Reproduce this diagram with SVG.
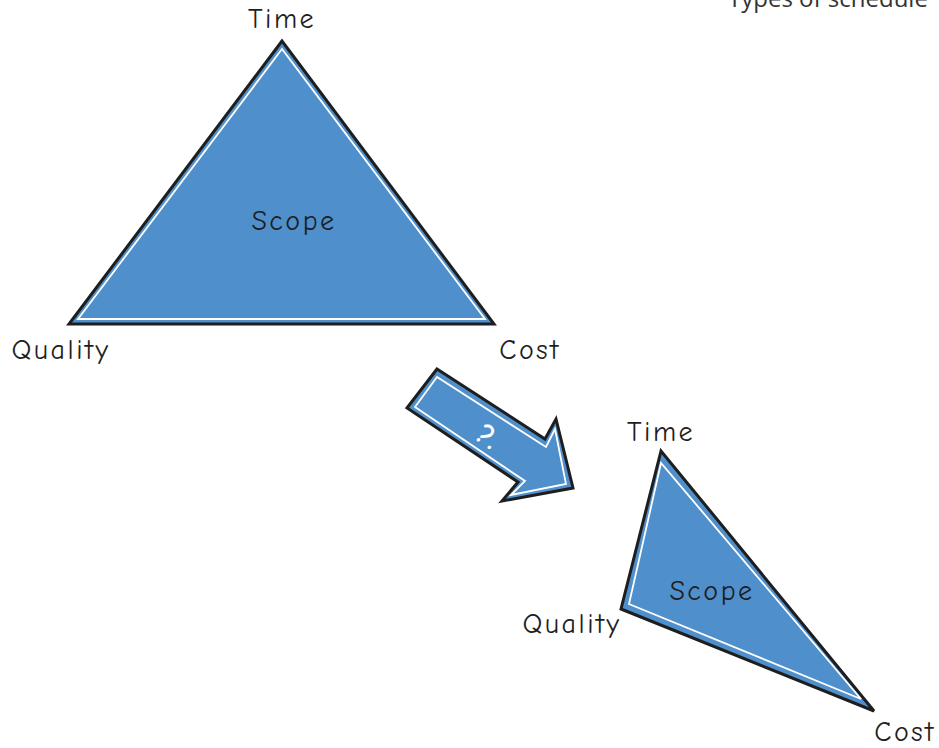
<svg xmlns="http://www.w3.org/2000/svg" width="939" height="748" viewBox="0 0 939 748">
<style>
.tri{fill:#4f8fcc;stroke:#1e1e1e;stroke-width:3;stroke-linejoin:miter}
.inner{fill:none;stroke:#ffffff;stroke-width:1.8}
.lbl{font-family:"Comic Neue","Liberation Sans",sans-serif;font-size:28px;letter-spacing:2.5px;fill:#1e1e1e;text-anchor:middle}
.title{font-family:"Open Sans","Liberation Sans",sans-serif;font-size:24px;fill:#333}
</style>
<rect width="939" height="748" fill="#ffffff"/>
<text class="title" x="728" y="7">Types of schedule</text>
<g id="triangle1">
<polygon class="tri" points="282,41 69,324 494,324"/>
<polygon class="inner" points="282,49 78,319 485,319"/>
<text class="lbl" x="294" y="230">Scope</text>
</g>
<g id="t1-time"><text class="lbl" x="282" y="28">Time</text></g>
<g id="t1-quality"><text class="lbl" x="61" y="359">Quality</text></g>
<g id="t1-cost"><text class="lbl" x="530" y="359">Cost</text></g>
<g id="connectors">
<g id="arrow">
<polygon class="tri" points="437,369 407,408 518,482 502,501 573,488 556,419 545,439"/>
<polygon class="inner" points="437,377 415,407 525,481 511,495 566,484 555,429 546,447"/>
<text x="487" y="446" transform="rotate(35 487 438)" font-family="Comic Neue,Liberation Sans,sans-serif" font-size="30" font-weight="bold" fill="#ffffff" text-anchor="middle">?.</text>
</g>
</g>
<g id="triangle2">
<polygon class="tri" points="661,451 621,609 874,711"/>
<polygon class="inner" points="661,463 629,604 861,699"/>
<text class="lbl" x="712" y="600">Scope</text>
</g>
<g id="t2-time"><text class="lbl" x="661" y="441">Time</text></g>
<g id="t2-quality"><text class="lbl" x="572" y="633">Quality</text></g>
<g id="t2-cost"><text class="lbl" x="905" y="741">Cost</text></g>
</svg>
